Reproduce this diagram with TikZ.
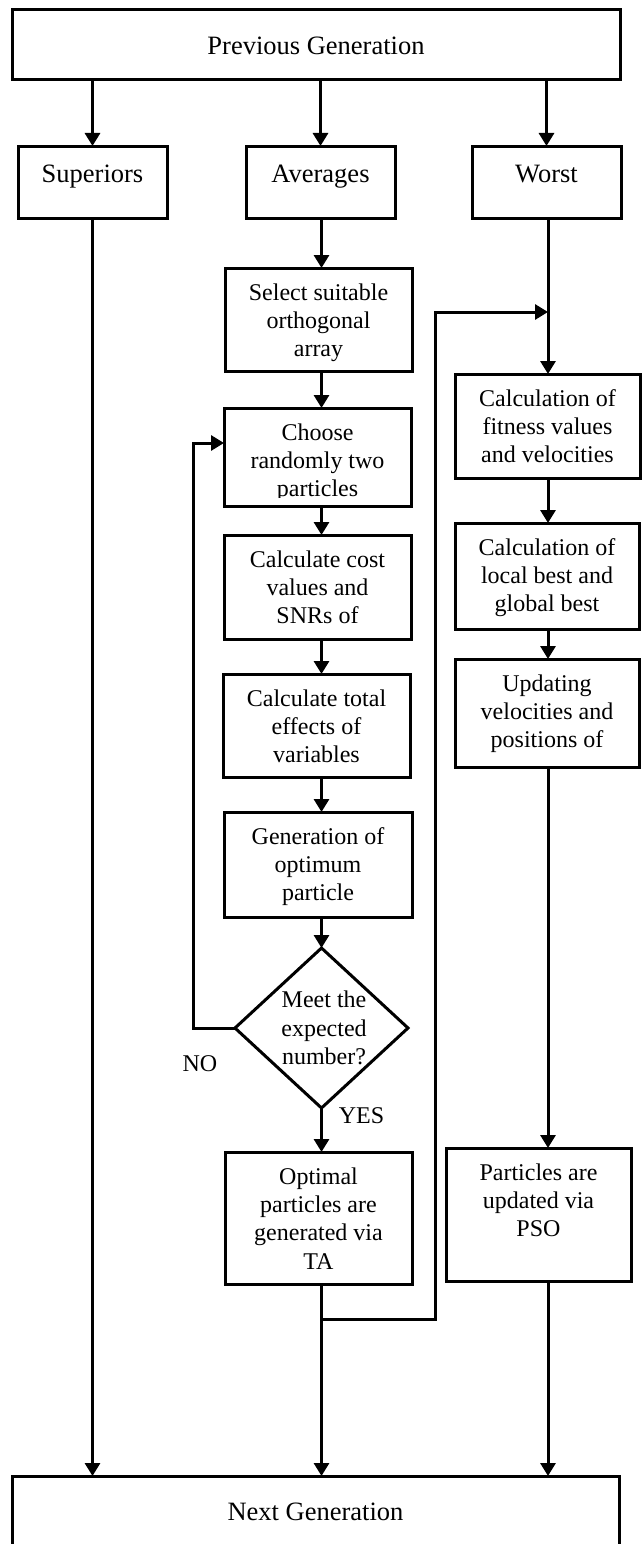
\documentclass[tikz,border=0pt]{standalone}
\usepackage{fontspec}
\setmainfont{Liberation Serif}
\usetikzlibrary{arrows.meta,shapes.geometric}
\newcommand{\bx}[4]{\parbox[c][#2][t]{#1}{\centering\rule{0pt}{#3}#4}}
\tikzset{
  box/.style={draw, line width=3pt, inner sep=0pt, outer sep=0pt},
  big/.style={font=\fontsize{26.5}{30}\selectfont},
  small/.style={font=\fontsize{24}{28.4}\selectfont},
  conn/.style={line width=3pt, -{Triangle[length=13pt,width=15pt]}},
  diam/.style={draw, diamond, line width=3pt, inner sep=0pt, outer sep=0pt, minimum width=173pt, minimum height=160pt},
}
\begin{document}
\begin{tikzpicture}[x=1pt,y=-1pt]
\useasboundingbox (0,0) rectangle (643,1544);
% boxes
\node[box,big] (prev) at (316,45) {\bx{608pt}{70pt}{45pt}{Previous Generation}};
\node[box,big] (sup) at (92.5,182) {\bx{149pt}{72pt}{36pt}{Superiors}};
\node[box,big] (avg) at (320.5,182) {\bx{149pt}{72pt}{36pt}{Averages}};
\node[box,big] (worst) at (546.5,182) {\bx{149pt}{72pt}{36pt}{Worst}};
\node[box,small] (select) at (318.5,319.5) {\bx{187pt}{103pt}{32pt}{Select suitable\\orthogonal\\array}};
\node[box,small] (choose) at (317.5,457) {\bx{187pt}{98pt}{32pt}{Choose\\randomly two\\particles}};
\node[box,small] (cost) at (317.5,587) {\bx{187pt}{104pt}{32pt}{Calculate cost\\values and\\SNRs of}};
\node[box,small] (total) at (316.5,725.5) {\bx{187pt}{103pt}{32pt}{Calculate total\\effects of\\variables}};
\node[box,small] (gen) at (318,864.5) {\bx{188pt}{105pt}{32pt}{Generation of\\optimum\\particle}};
\node[diam] (dia) at (321.5,1028) {};
\node[small, align=center, inner sep=0pt] (dtext) at (324,1028) {Meet the\\expected\\number?};
\node[box,small] (opt) at (318.5,1218) {\bx{187pt}{132pt}{32pt}{Optimal\\particles are\\generated via\\TA}};
\node[box,small] (fit) at (547.5,426) {\bx{185pt}{104pt}{32pt}{Calculation of\\fitness values\\and velocities}};
\node[box,small] (loc) at (547,576) {\bx{184pt}{106pt}{32pt}{Calculation of\\local best and\\global best}};
\node[box,small] (upd) at (547,713) {\bx{184pt}{108pt}{32pt}{Updating\\velocities and\\positions of}};
\node[box,small] (pso) at (538.5,1214.5) {\bx{185pt}{133pt}{32pt}{Particles are\\updated via\\PSO}};
\node[box,big] (next) at (315.5,1541) {\bx{607pt}{130pt}{44pt}{Next Generation}};
% clipped last line of "Choose" box
\fill[white] (226,497.5) rectangle (409,504.4);
% labels
\node[small, anchor=base, inner sep=0pt] (no) at (200,1071) {NO};
\node[small, anchor=base, inner sep=0pt] (yes) at (361.5,1123) {YES};
% column coordinates
\coordinate (mc) at (321.5,0);
\coordinate (rc) at (548,0);
\coordinate (j1) at (321.5,1319);
\coordinate (j2) at (435,1319);
\coordinate (j3) at (435,312);
\coordinate (l2) at (193,443);
% connectors
\draw[conn] (sup.north |- prev.south) -- (sup.north);
\draw[conn] (avg.north |- prev.south) -- (avg.north);
\draw[conn] (worst.north |- prev.south) -- (worst.north);
\draw[conn] (sup.south) -- (sup.south |- next.north);
\draw[conn] (mc |- avg.south) -- (mc |- select.north);
\draw[conn] (mc |- select.south) -- (mc |- choose.north);
\draw[conn] (mc |- choose.south) -- (mc |- cost.north);
\draw[conn] (mc |- cost.south) -- (mc |- total.north);
\draw[conn] (mc |- total.south) -- (mc |- gen.north);
\draw[conn] (mc |- gen.south) -- (dia.north);
\draw[conn] (dia.south) -- (mc |- opt.north);
\draw[conn] (mc |- opt.south) -- (mc |- next.north);
\draw[conn] (j1) -- (j2) -- (j3) -- (rc |- j3);
\draw[conn] (rc |- worst.south) -- (rc |- fit.north);
\draw[conn] (rc |- fit.south) -- (rc |- loc.north);
\draw[conn] (rc |- loc.south) -- (rc |- upd.north);
\draw[conn] (rc |- upd.south) -- (rc |- pso.north);
\draw[conn] (rc |- pso.south) -- (rc |- next.north);
\draw[conn] (dia.west) -- (dia.west -| l2) -- (l2) -- (choose.west |- l2);
\end{tikzpicture}
\end{document}
